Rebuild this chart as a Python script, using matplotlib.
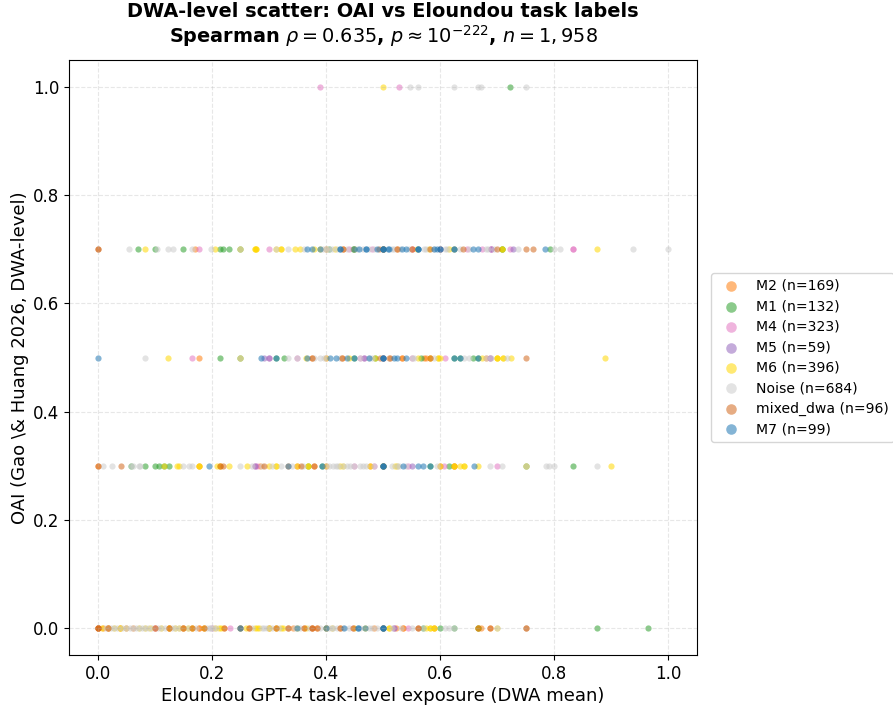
import matplotlib
matplotlib.use('Agg')
import matplotlib.pyplot as plt

# ============================================================
# data: {OAI level: [Eloundou x values]}
# ============================================================
labels = ['M2', 'M1', 'M4', 'M5', 'M6', 'Noise', 'mixed_dwa', 'M7']
counts = [169, 132, 323, 59, 396, 684, 96, 99]
colors = ['#ff7f0e', '#2ca02c', '#e377c2', '#9467bd', '#ffd700', '#cccccc', '#d2691e', '#1f77b4']

m2 = {
    0.0: [0.0, 0.0, 0.01, 0.019, 0.039, 0.062, 0.1, 0.125, 0.125, 0.15, 0.166, 0.178, 0.178, 0.187, 0.222, 0.266, 0.312,
          0.333, 0.342, 0.361, 0.375, 0.385, 0.425, 0.484, 0.522, 0.535, 0.535, 0.59, 0.667, 0.672, 0.688, 0.75],
    0.3: [0.0, 0.178, 0.215, 0.284, 0.333, 0.35, 0.38, 0.478, 0.5, 0.6, 0.625, 0.625],
    0.5: [0.178, 0.375, 0.429, 0.5, 0.511, 0.533, 0.533, 0.572, 0.576, 0.583, 0.68],
    0.7: [0.17, 0.43, 0.5, 0.525, 0.55, 0.6],
}
m1 = {
    0.0: [0.25, 0.4, 0.5, 0.6, 0.625, 0.57, 0.875, 0.964, 0.667],
    0.3: [0.058, 0.083, 0.1, 0.107, 0.116, 0.125, 0.369, 0.393, 0.5, 0.583, 0.615, 0.75, 0.833],
    0.5: [0.214, 0.25, 0.312, 0.327, 0.45, 0.486, 0.567, 0.625, 0.635, 0.657, 0.667],
    0.7: [0.071, 0.1, 0.15, 0.214, 0.219, 0.23, 0.25, 0.405, 0.45, 0.447, 0.5, 0.708, 0.708, 0.792],
    1.0: [0.722],
}
m4 = {
    0.0: [0.019, 0.232, 0.3, 0.4, 0.448, 0.5, 0.52, 0.544, 0.05, 0.1, 0.15, 0.2],
    0.3: [0.276, 0.279, 0.4, 0.45, 0.484, 0.5, 0.544, 0.607, 0.7],
    0.5: [0.166, 0.3, 0.35, 0.4, 0.46, 0.466, 0.5, 0.55, 0.609, 0.687],
    0.7: [0.178, 0.3, 0.4, 0.44, 0.48, 0.5, 0.55, 0.6, 0.648, 0.673, 0.69, 0.69, 0.723, 0.833, 0.833],
    1.0: [0.39, 0.528],
}
m5 = {
    0.0: [0.52, 0.5],
    0.3: [0.276, 0.55],
    0.5: [0.292, 0.3, 0.466, 0.687],
    0.7: [0.5, 0.69, 0.728],
}
m6 = {
    0.0: [0.008, 0.019, 0.029, 0.039, 0.039, 0.05, 0.072, 0.083, 0.092, 0.112, 0.125, 0.135, 0.142, 0.15, 0.158, 0.166,
          0.187, 0.205, 0.212, 0.217, 0.26, 0.275, 0.28, 0.283, 0.3, 0.3, 0.312, 0.322, 0.325, 0.35, 0.365, 0.4, 0.41,
          0.45, 0.468, 0.5, 0.511, 0.511, 0.576, 0.583, 0.583, 0.59, 0.59, 0.667, 0.7],
    0.3: [0.116, 0.139, 0.142, 0.178, 0.178, 0.209, 0.215, 0.23, 0.262, 0.3, 0.312, 0.312, 0.35, 0.369, 0.369, 0.4, 0.425,
          0.43, 0.478, 0.5, 0.521, 0.525, 0.6, 0.625, 0.625, 0.634, 0.642, 0.642, 0.667, 0.75, 0.9],
    0.5: [0.124, 0.25, 0.365, 0.4, 0.44, 0.486, 0.561, 0.583, 0.597, 0.597, 0.6, 0.673, 0.7, 0.7, 0.7, 0.71, 0.71, 0.725,
          0.889],
    0.7: [0.083, 0.205, 0.25, 0.275, 0.277, 0.275, 0.277, 0.312, 0.322, 0.322, 0.346, 0.354, 0.38, 0.389, 0.4, 0.416,
          0.45, 0.5, 0.56, 0.58, 0.615, 0.625, 0.708, 0.708, 0.875],
    1.0: [0.5],
}
noise = {
    0.0: [0.014, 0.024, 0.029, 0.034, 0.043, 0.05, 0.056, 0.062, 0.068, 0.072, 0.078, 0.083, 0.089, 0.095, 0.106, 0.112,
          0.118, 0.13, 0.135, 0.142, 0.158, 0.173, 0.192, 0.197, 0.197, 0.202, 0.208, 0.25, 0.27, 0.288, 0.292, 0.297,
          0.305, 0.318, 0.333, 0.345, 0.355, 0.37, 0.39, 0.405, 0.41, 0.413, 0.42, 0.43, 0.44, 0.46, 0.475, 0.48, 0.49,
          0.515, 0.531, 0.55, 0.57, 0.609, 0.616, 0.625, 0.7, 0.75],
    0.3: [0.01, 0.025, 0.058, 0.062, 0.072, 0.075, 0.15, 0.16, 0.166, 0.25, 0.27, 0.288, 0.305, 0.322, 0.34, 0.36, 0.405,
          0.413, 0.418, 0.422, 0.43, 0.437, 0.443, 0.45, 0.46, 0.465, 0.47, 0.484, 0.515, 0.525, 0.528, 0.54, 0.594,
          0.688, 0.709, 0.75, 0.786, 0.79, 0.8, 0.875],
    0.5: [0.083, 0.25, 0.333, 0.35, 0.38, 0.389, 0.396, 0.425, 0.46, 0.475, 0.48, 0.51, 0.551, 0.555, 0.59, 0.642, 0.65,
          0.68, 0.69, 0.718],
    0.7: [0.055, 0.104, 0.124, 0.132, 0.166, 0.198, 0.25, 0.312, 0.333, 0.362, 0.395, 0.4, 0.405, 0.41, 0.42, 0.437,
          0.455, 0.465, 0.475, 0.485, 0.515, 0.52, 0.53, 0.545, 0.572, 0.575, 0.59, 0.609, 0.612, 0.635, 0.65, 0.68,
          0.684, 0.695, 0.736, 0.8, 0.81, 0.938, 1.0],
    1.0: [0.548, 0.562, 0.625, 0.667, 0.672, 0.75],
}
mixed = {
    0.0: [0.0, 0.0, 0.0, 0.019, 0.1, 0.125, 0.15, 0.166, 0.187, 0.222, 0.25, 0.266, 0.312, 0.333, 0.361, 0.375, 0.375,
          0.385, 0.425, 0.448, 0.562, 0.562, 0.667, 0.688, 0.75],
    0.3: [0.0, 0.041, 0.215, 0.22, 0.292, 0.357, 0.38],
    0.5: [0.375, 0.429, 0.495, 0.512, 0.583, 0.75],
    0.7: [0.0, 0.0, 0.43, 0.493, 0.525, 0.55, 0.582, 0.64, 0.7, 0.75, 0.763],
}
m7 = {
    0.0: [0.25, 0.35, 0.4, 0.432, 0.456, 0.456, 0.468, 0.5, 0.5, 0.5],
    0.3: [0.196, 0.333, 0.393, 0.5, 0.5, 0.5, 0.535, 0.562, 0.57, 0.583, 0.66],
    0.5: [0.0, 0.286, 0.312, 0.367, 0.408, 0.417, 0.437, 0.45, 0.475, 0.5, 0.5, 0.5, 0.52, 0.525, 0.541, 0.625, 0.635, 0.667],
    0.7: [0.367, 0.375, 0.389, 0.424, 0.424, 0.45, 0.458, 0.47, 0.47, 0.489, 0.5, 0.5, 0.5, 0.509, 0.511, 0.533, 0.541,
          0.562, 0.562, 0.562, 0.589, 0.594, 0.6, 0.6, 0.625, 0.625, 0.657, 0.667, 0.784],
}
series = [m2, m1, m4, m5, m6, noise, mixed, m7]

fig = plt.figure(figsize=(8.93, 7.06), dpi=100)
ax = fig.add_axes([69 / 893, 1 - 655 / 706, 628 / 893, 595 / 706])

for name, n, color, points in zip(labels, counts, colors, series):
    xs = [x for level in points for x in points[level]]
    ys = [level for level in points for x in points[level]]
    ax.scatter(xs, ys, s=20, c=color, alpha=0.55, linewidths=0, label=f'{name} (n={n})')

ax.set_xlim(-0.05, 1.05)
ax.set_ylim(-0.05, 1.05)
ax.tick_params(labelsize=12)
ax.grid(True, linestyle='--', alpha=0.3)
ax.set_xlabel('Eloundou GPT-4 task-level exposure (DWA mean)', fontsize=13, labelpad=3)
ax.set_ylabel('OAI (Gao \\& Huang 2026, DWA-level)', fontsize=13, labelpad=3)
ax.set_title('DWA-level scatter: OAI vs Eloundou task labels\n'
             'Spearman $\\rho = 0.635$, $p \\approx 10^{-222}$, $n = 1,958$',
             fontsize=13.9, fontweight='bold', pad=12.5, linespacing=1.12)
ax.legend(loc='center left', bbox_to_anchor=(1.011, 0.5), fontsize=10.1, markerscale=1.7, labelspacing=0.46)

plt.savefig('out.png', dpi=100)
plt.close()
